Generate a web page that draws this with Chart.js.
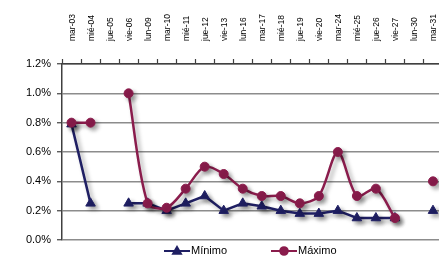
<!DOCTYPE html>
<html>
<head>
<meta charset="utf-8">
<script src="https://cdn.jsdelivr.net/npm/chart.js@4/dist/chart.umd.min.js"></script>
<style>
  html, body { margin: 0; padding: 0; background: #fff; overflow: hidden; }
  canvas { display: block; }
</style>
</head>
<body>
<canvas id="tasaChart" width="449" height="258"></canvas>
<script>
// dias habiles del mes
const dias = ["mar-03", "mié-04", "jue-05", "vie-06", "lun-09", "mar-10", "mié-11", "jue-12",
  "vie-13", "lun-16", "mar-17", "mié-18", "jue-19", "vie-20", "mar-24", "mié-25",
  "jue-26", "vie-27", "lun-30", "mar-31"];

// tasas en %
const minimo = [0.79, 0.25, null, 0.25, 0.25, 0.2, 0.25, 0.3, 0.2, 0.25, 0.23, 0.2,
  0.18, 0.18, 0.2, 0.15, 0.15, 0.15, null, 0.2];
const maximo = [0.8, 0.8, null, 1.0, 0.25, 0.22, 0.35, 0.5, 0.45, 0.35, 0.3, 0.3,
  0.25, 0.3, 0.6, 0.3, 0.35, 0.15, null, 0.4];

const yTickLabels = ["0.0%", "0.2%", "0.4%", "0.6%", "0.8%", "1.0%", "1.2%"];

const navy = "#1f1f63";
const granate = "#8a1c4c";
const fuente = "'Liberation Sans', Arial, sans-serif";

// sombra detras de las series (como en excel)
const sombraPlugin = {
  id: "sombra",
  beforeDatasetsDraw(chart) {
    const c = chart.ctx;
    c.save();
    c.shadowColor = "rgba(0,0,0,0.35)";
    c.shadowBlur = 4;
    c.shadowOffsetX = 3;
    c.shadowOffsetY = 3;
  },
  afterDatasetsDraw(chart) {
    chart.ctx.restore();
  }
};

// leyenda con linea + marcador
const leyendaPlugin = {
  id: "leyenda",
  afterDraw(chart) {
    const c = chart.ctx;
    const items = [
      { x: 164, ds: chart.data.datasets[0] },
      { x: 271, ds: chart.data.datasets[1] }
    ];
    const y = 251;
    c.save();
    items.forEach(it => {
      const ds = it.ds;
      c.strokeStyle = ds.borderColor;
      c.lineWidth = 2;
      c.beginPath();
      c.moveTo(it.x, y);
      c.lineTo(it.x + 26, y);
      c.stroke();
      Chart.helpers.drawPoint(c, {
        pointStyle: ds.pointStyle,
        radius: ds.pointStyle === "triangle" ? 4.5 : 3.8,
        borderWidth: 1,
        rotation: 0
      }, it.x + 13, y + (ds.pointStyle === "triangle" ? 0.5 : 0));
      c.fillStyle = ds.borderColor;
      c.fill();
      c.fillStyle = "#000";
      c.font = "11px " + fuente;
      c.textBaseline = "middle";
      c.textAlign = "left";
      c.fillText(ds.label, it.x + 27, y);
    });
    c.restore();
  }
};

const chart = new Chart(document.getElementById("tasaChart"), {
  type: "line",
  data: {
    labels: dias,
    datasets: [
      {
        label: "Mínimo",
        data: minimo,
        borderColor: navy,
        backgroundColor: navy,
        borderWidth: 2.5,
        pointStyle: "triangle",
        pointRadius: 5.5,
        pointBorderWidth: 1,
        tension: 0,
        spanGaps: false,
        order: 1
      },
      {
        label: "Máximo",
        data: maximo,
        borderColor: granate,
        backgroundColor: granate,
        borderWidth: 2.5,
        pointStyle: "circle",
        pointRadius: 4.5,
        pointBorderWidth: 1,
        tension: 0.3,
        spanGaps: false,
        order: 0
      }
    ]
  },
  options: {
    responsive: false,
    devicePixelRatio: 1,
    animation: false,
    layout: { padding: { left: 0, right: 0, top: 0, bottom: 18 } },
    plugins: {
      legend: { display: false },
      tooltip: { enabled: false }
    },
    scales: {
      x: {
        position: "top",
        offset: true,
        grid: {
          offset: true,
          drawOnChartArea: false,
          drawTicks: true,
          tickLength: 5,
          tickColor: "#404040",
          tickWidth: 1.2
        },
        border: { display: true, color: "#404040", width: 1.5 },
        ticks: {
          autoSkip: false,
          minRotation: 90,
          maxRotation: 90,
          padding: 18,
          labelOffset: 11,
          color: "#000",
          font: { family: fuente, size: 8.5 }
        },
        afterFit(scale) {
          scale.height = 64;
          scale.paddingLeft = 0;
          scale.paddingRight = 0;
        }
      },
      y: {
        min: 0,
        max: 1.2,
        grid: {
          color: "#8c8c8c",
          lineWidth: 1.5,
          borderDash: [1.5, 1.5],
          tickLength: 5,
          tickColor: "#404040",
          tickBorderDash: [],
          tickWidth: 1.2
        },
        border: { display: true, color: "#404040", width: 1.5 },
        ticks: {
          stepSize: 0.2,
          padding: 6,
          color: "#000",
          font: { family: fuente, size: 11 },
          callback: (v, i) => yTickLabels[i]
        },
        afterFit(scale) {
          scale.width = 62;
          scale.paddingTop = 0;
          scale.paddingBottom = 0;
        }
      }
    }
  },
  plugins: [sombraPlugin, leyendaPlugin]
});
</script>
</body>
</html>
